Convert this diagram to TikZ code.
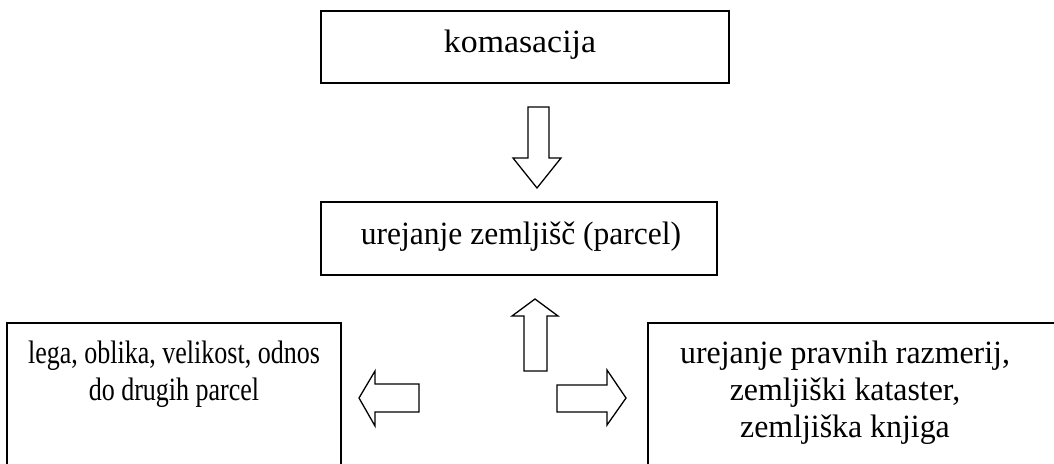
\documentclass[tikz,border=0pt]{standalone}
\usepackage{fontspec}
\setmainfont{Liberation Serif}
\begin{document}
\begin{tikzpicture}[x=1pt,y=-1pt,
  box/.style={draw,line width=1.3pt,fill=white},
  lbl/.style={inner sep=0pt,align=center,anchor=base,transform shape,font=\fontsize{32.5}{37}\selectfont},
  blockarrow/.style={draw,line width=1.3pt,line join=miter,fill=white}]
\useasboundingbox (0,0) rectangle (1054,463);
\clip (0,0) rectangle (1054,463);
% boxes
\draw[box] (321,11) rectangle (729,83);
\draw[box] (321,202) rectangle (717,275);
\draw[box] (7,323) rectangle (341,490);
\draw[box] (648,323) rectangle (1070,490);
% texts (anchor base = last line's baseline)
\node[lbl,xscale=1.04] (ttop) at (520,52) {komasacija};
\node[lbl,xscale=0.97] (tmid) at (521,244) {urejanje zemljišč (parcel)};
\node[lbl,xscale=0.80] (tleft) at (174,400) {lega, oblika, velikost, odnos\\do drugih parcel};
\node[lbl,xscale=0.98] (tright) at (845,437) {urejanje pravnih razmerij,\\zemljiški kataster,\\zemljiška knjiga};
% block arrows
\draw[blockarrow] (528,107) -- (549,107) -- (549,158) -- (561,158) -- (537,188) -- (513,158) -- (528,158) -- cycle;
\draw[blockarrow] (524,371) -- (547,371) -- (547,316) -- (558,316) -- (535,299) -- (512,316) -- (524,316) -- cycle;
\draw[blockarrow] (557,385) -- (607,385) -- (607,370) -- (626,398) -- (607,425) -- (607,412) -- (557,412) -- cycle;
\draw[blockarrow] (419,384) -- (375,384) -- (375,371) -- (359,398) -- (375,426) -- (375,412) -- (419,412) -- cycle;
\end{tikzpicture}
\end{document}
